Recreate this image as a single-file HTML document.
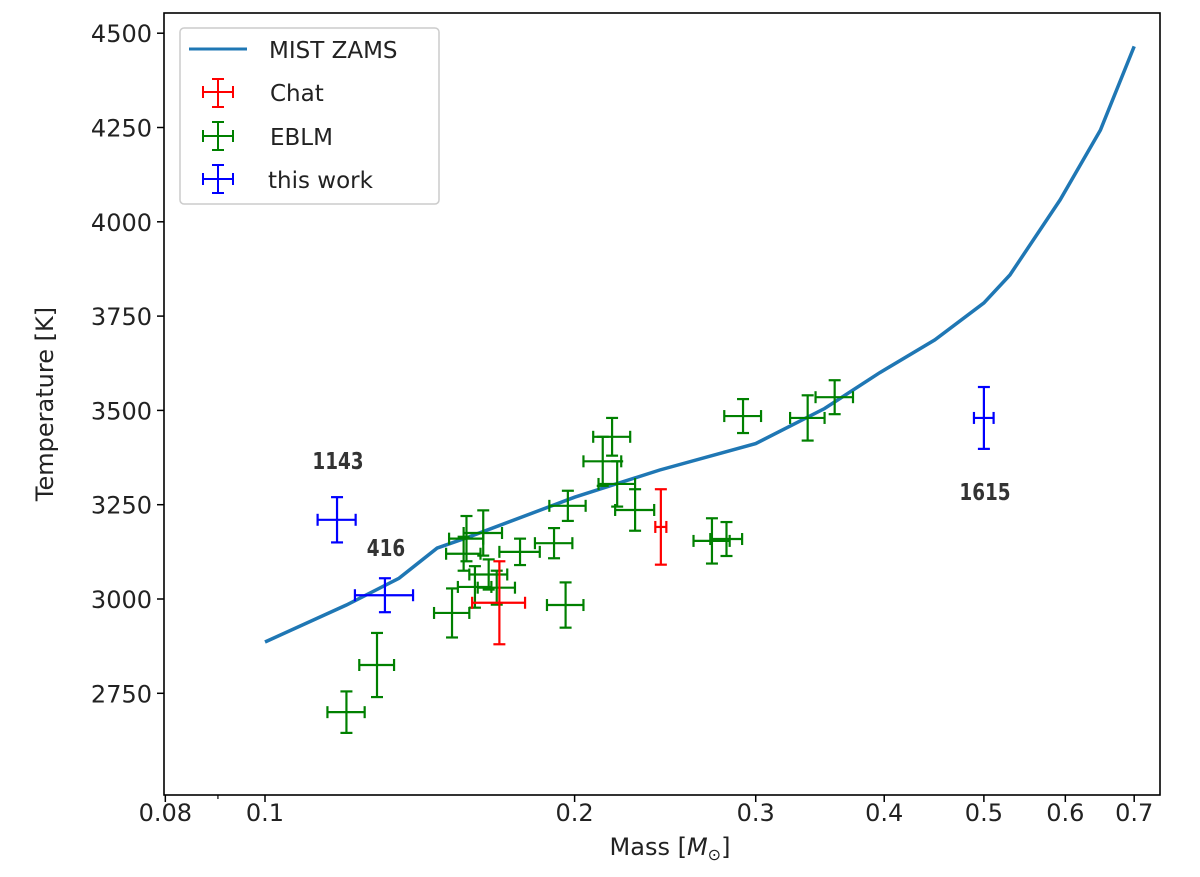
<!DOCTYPE html>
<html><head><meta charset="utf-8"><style>
body{margin:0;background:#fff;}
svg{display:block;font-family:"DejaVu Sans","Liberation Sans",sans-serif;}
</style></head><body>
<svg id="chart" width="1200" height="877">
<rect x="0" y="0" width="1200" height="877" fill="#fff"/>
<g id="curve"></g>
<g id="points"></g>
<g id="axes"></g>
<g id="legend">
<rect x="180" y="28" width="259" height="176" rx="4" fill="#fff" fill-opacity="0.8" stroke="#ccc" stroke-width="1.5"/>
<g>
<line x1="189" y1="49" x2="247" y2="49" stroke="#1f77b4" stroke-width="3"/>
<text x="269" y="58" font-size="23" fill="#222">MIST ZAMS</text></g>
<g stroke="#f00" stroke-width="2">
<line x1="203" y1="92" x2="233" y2="92"/><line x1="218" y1="79" x2="218" y2="107"/>
<line x1="203" y1="86" x2="203" y2="98"/><line x1="233" y1="86" x2="233" y2="98"/>
<line x1="212" y1="79" x2="224" y2="79"/><line x1="212" y1="107" x2="224" y2="107"/>
<text x="270" y="101" font-size="23" fill="#222" stroke="none">Chat</text></g>
<g stroke="#008000" stroke-width="2">
<line x1="203" y1="136" x2="233" y2="136"/><line x1="218" y1="122" x2="218" y2="150"/>
<line x1="203" y1="130" x2="203" y2="142"/><line x1="233" y1="130" x2="233" y2="142"/>
<line x1="212" y1="122" x2="224" y2="122"/><line x1="212" y1="150" x2="224" y2="150"/>
<text x="270" y="145" font-size="23" fill="#222" stroke="none">EBLM</text></g>
<g stroke="#00f" stroke-width="2">
<line x1="203" y1="179" x2="233" y2="179"/><line x1="218" y1="165" x2="218" y2="193"/>
<line x1="203" y1="173" x2="203" y2="185"/><line x1="233" y1="173" x2="233" y2="185"/>
<line x1="212" y1="165" x2="224" y2="165"/><line x1="212" y1="193" x2="224" y2="193"/>
<text x="268" y="188" font-size="23" fill="#222" stroke="none">this work</text></g>
</g>
<text x="338" y="469" font-size="23" font-weight="bold" fill="#333" text-anchor="middle" transform="translate(338 0) scale(0.8 1) translate(-338 0)">1143</text>
<text x="386" y="556" font-size="23" font-weight="bold" fill="#333" text-anchor="middle" transform="translate(386 0) scale(0.8 1) translate(-386 0)">416</text>
<text x="985" y="500" font-size="23" font-weight="bold" fill="#333" text-anchor="middle" transform="translate(985 0) scale(0.8 1) translate(-985 0)">1615</text>
<text x="670" y="855" font-size="24" fill="#222" text-anchor="middle">Mass [<tspan font-style="italic">M</tspan><tspan font-size="16" dy="5">⊙</tspan><tspan dy="-5">]</tspan></text>
<text x="0" y="0" font-size="24" fill="#222" text-anchor="middle" transform="translate(53 404) rotate(-90)">Temperature [K]</text>
</svg>
<script>
const curveMass=[0.1,0.12,0.135,0.147,0.158,0.2,0.242,0.3,0.35,0.396,0.448,0.5,0.53,0.593,0.649,0.7];
const curveTeff=[2886,2984,3055,3135,3165,3270,3342,3412,3505,3600,3687,3785,3859,4058,4243,4465];
const chatMass=[0.169,0.2426];
const chatTeff=[2990,3191];
const chatMassErr=[0.010,0.003];
const chatTeffErr=[110,100];
const thisMass=[0.1175,0.1308,0.5];
const thisTeff=[3210,3010,3480];
const thisMassErr=[0.005,0.0085,0.011];
const thisTeffErr=[60,45,82];
const eblmMass=[0.2175,0.213,0.220,0.229,0.197,0.191,0.177,0.163,0.157,0.156,0.160,0.168,0.165,0.152,0.196,0.120,0.1285,0.2916,0.337,0.358,0.272,0.281];
const eblmTeff=[3430,3365,3305,3236,3247,3148,3125,3175,3160,3120,3032,3030,3065,2963,2984,2700,2825,3485,3480,3535,3154,3159];
const eblmMassErr=[0.009,0.009,0.009,0.010,0.008,0.008,0.008,0.007,0.006,0.006,0.006,0.007,0.007,0.006,0.008,0.005,0.005,0.012,0.013,0.015,0.011,0.010];
const eblmTeffErr=[50,65,60,55,40,40,35,60,60,45,55,45,40,65,60,55,85,45,60,45,60,45];
const yTicks=[2750,3000,3250,3500,3750,4000,4250,4500];
const xTicks=[0.08,0.1,0.2,0.3,0.4,0.5,0.6,0.7];
const xTickLabels=["0.08","0.1","0.2","0.3","0.4","0.5","0.6","0.7"];
const xMinor=[0.09];

const L=164,R=1160,T=13,B=795;
const X=m=>265+1028.5*Math.log10(m/0.1);
const Y=t=>599-(t-3000)*0.3772;
const NS="http://www.w3.org/2000/svg";
function mk(tag,attrs,parent){const e=document.createElementNS(NS,tag);for(const k in attrs)e.setAttribute(k,attrs[k]);parent.appendChild(e);return e;}

const cg=document.getElementById('curve');
let d=curveMass.map((m,i)=>(i?'L':'M')+X(m).toFixed(1)+' '+Y(curveTeff[i]).toFixed(1)).join(' ');
const path=mk('path',{d:d,fill:'none',stroke:'#1f77b4','stroke-width':3.5},cg);



const pg=document.getElementById('points');
function errbar(m,t,me,te,color,name){
  const g=mk('g',{stroke:color,'stroke-width':2.2},pg);
  
  
  const x=X(m),y=Y(t),x1=X(m-me),x2=X(m+me),y1=Y(t+te),y2=Y(t-te);
  mk('line',{x1:x1,y1:y,x2:x2,y2:y},g);
  mk('line',{x1:x,y1:y1,x2:x,y2:y2},g);
  mk('line',{x1:x1,y1:y-6,x2:x1,y2:y+6},g);
  mk('line',{x1:x2,y1:y-6,x2:x2,y2:y+6},g);
  mk('line',{x1:x-6,y1:y1,x2:x+6,y2:y1},g);
  mk('line',{x1:x-6,y1:y2,x2:x+6,y2:y2},g);
}
eblmMass.forEach((m,i)=>errbar(m,eblmTeff[i],eblmMassErr[i],eblmTeffErr[i],'#008000','eblm-point'));
chatMass.forEach((m,i)=>errbar(m,chatTeff[i],chatMassErr[i],chatTeffErr[i],'#f00','chat-point'));
thisMass.forEach((m,i)=>errbar(m,thisTeff[i],thisMassErr[i],thisTeffErr[i],'#00f','this-work-point'));

const ag=document.getElementById('axes');
const frame=mk('rect',{x:L,y:T,width:R-L,height:B-T,fill:'none',stroke:'#000','stroke-width':1.6},ag);


yTicks.forEach(v=>{
  const y=Y(v);
  mk('line',{x1:L-7,y1:y,x2:L,y2:y,stroke:'#000','stroke-width':1.5},ag);
  const t=mk('text',{x:L-12,y:y+9,'font-size':24,'text-anchor':'end',fill:'#222'},ag);
  t.textContent=v;
  
  
});
xTicks.forEach((v,i)=>{
  const x=X(v);
  mk('line',{x1:x,y1:B,x2:x,y2:B+7,stroke:'#000','stroke-width':1.5},ag);
  const t=mk('text',{x:x,y:B+17+9,'font-size':24,'text-anchor':'middle',fill:'#222'},ag);
  t.textContent=xTickLabels[i];
  
  
});
xMinor.forEach(v=>{const x=X(v);mk('line',{x1:x,y1:B,x2:x,y2:B+4,stroke:'#000','stroke-width':1.2},ag);});
</script>
</body></html>
